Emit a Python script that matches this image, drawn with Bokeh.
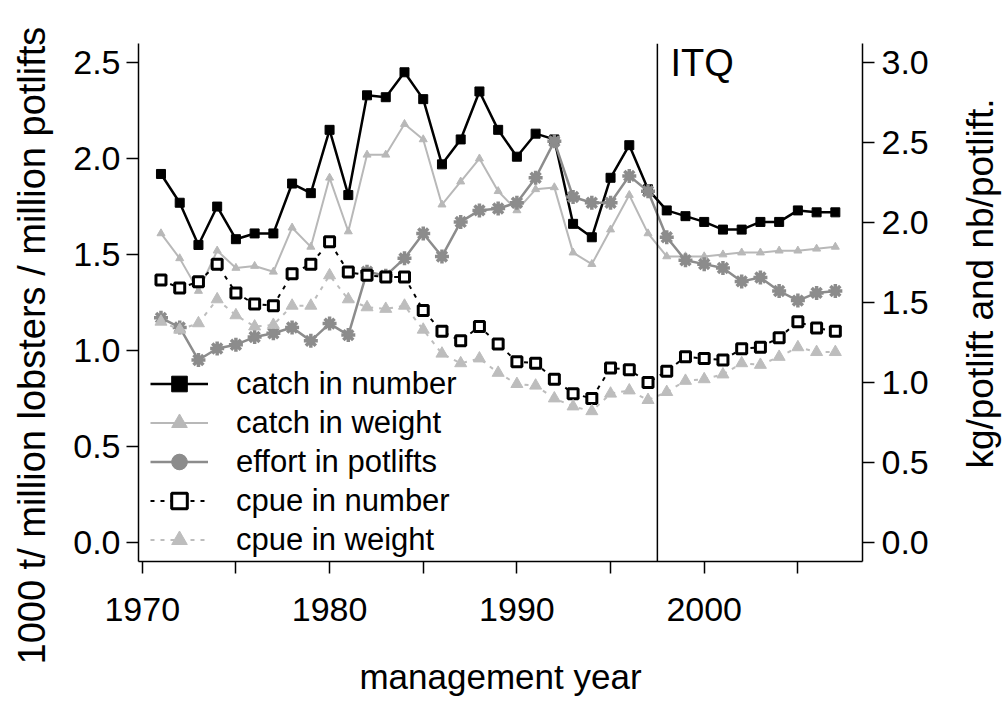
import math
from bokeh.plotting import figure
from bokeh.layouts import row
from bokeh.models import (LinearAxis, Range1d, FixedTicker, PrintfTickFormatter,
                          Legend, LegendItem, Span, Label, Title)
from bokeh.core.properties import value
from bokeh.embed import file_html
from bokeh.resources import INLINE

years = list(range(1971, 2008))

catch_number = [1.92, 1.77, 1.55, 1.75, 1.58, 1.61, 1.61, 1.87, 1.82, 2.15,
                1.81, 2.33, 2.32, 2.45, 2.31, 1.97, 2.10, 2.35, 2.15, 2.01,
                2.13, 2.10, 1.66, 1.59, 1.90, 2.07, 1.84, 1.73, 1.70, 1.67,
                1.63, 1.63, 1.67, 1.67, 1.73, 1.72, 1.72]

catch_weight = [1.61, 1.48, 1.31, 1.52, 1.43, 1.44, 1.41, 1.64, 1.54, 1.90,
                1.62, 2.02, 2.02, 2.18, 2.10, 1.76, 1.88, 2.00, 1.83, 1.73,
                1.84, 1.85, 1.51, 1.45, 1.63, 1.81, 1.61, 1.49, 1.49, 1.49,
                1.50, 1.51, 1.51, 1.52, 1.52, 1.53, 1.54]

effort = [1.17, 1.12, 0.95, 1.01, 1.03, 1.07, 1.09, 1.12, 1.05, 1.14,
          1.08, 1.41, 1.39, 1.48, 1.61, 1.49, 1.67, 1.73, 1.74, 1.77,
          1.90, 2.09, 1.80, 1.77, 1.77, 1.91, 1.83, 1.59, 1.47, 1.45,
          1.43, 1.36, 1.38, 1.31, 1.26, 1.30, 1.31]

cpue_number = [1.64, 1.59, 1.63, 1.74, 1.56, 1.49, 1.48, 1.68, 1.74, 1.88,
               1.69, 1.67, 1.66, 1.66, 1.45, 1.32, 1.26, 1.35, 1.24, 1.13,
               1.12, 1.02, 0.93, 0.90, 1.09, 1.08, 1.00, 1.07, 1.16, 1.15,
               1.14, 1.21, 1.22, 1.28, 1.38, 1.34, 1.32]

cpue_weight = [1.38, 1.33, 1.37, 1.52, 1.42, 1.35, 1.36, 1.48, 1.48, 1.67,
               1.52, 1.47, 1.46, 1.48, 1.33, 1.18, 1.12, 1.15, 1.06, 0.99,
               0.98, 0.90, 0.85, 0.82, 0.93, 0.95, 0.89, 0.94, 1.01, 1.02,
               1.05, 1.12, 1.11, 1.16, 1.22, 1.19, 1.19]

series_labels = ["catch in number", "catch in weight", "effort in potlifts",
                 "cpue in number", "cpue in weight"]
x_major = [1970, 1980, 1990, 2000]
x_minor = [1975, 1985, 1995, 2005]
left_ticks = [0.0, 0.5, 1.0, 1.5, 2.0, 2.5]
right_ticks = [0.0, 0.5, 1.0, 1.5, 2.0, 2.5, 3.0]
itq_year = 1997.5
left_title = "1000 t/ million lobsters / million potlifts"
right_title = "kg/potlift and nb/potlift."
x_title = "management year"

FONT = "Liberation Sans"
W_LEFT = 70       # strip holding the left axis title
W_RIGHT = 71      # strip holding the right axis title
FRAME_W, FRAME_H = 724, 518
TOP, BOTTOM = 43, 137

# ---------------- main chart ----------------
p = figure(frame_width=FRAME_W, frame_height=FRAME_H, output_backend="svg",
           toolbar_location=None,
           x_range=Range1d(1969.8, 2008.45), y_range=Range1d(-0.1, 2.6),
           min_border_left=137 - W_LEFT, min_border_right=66,
           min_border_top=TOP, min_border_bottom=BOTTOM)
p.extra_y_ranges = {"right": Range1d(-0.12, 3.12)}
p.outline_line_color = None
p.grid.visible = False
p.background_fill_color = "white"
p.border_fill_color = "white"


def style_axis(ax, label_size="34px"):
    ax.axis_line_color = "black"
    ax.axis_line_width = 1.5
    ax.major_tick_line_color = "black"
    ax.major_tick_line_width = 1.5
    ax.major_tick_out = 12
    ax.major_tick_in = 0
    ax.minor_tick_line_color = None
    ax.major_label_text_font = FONT
    ax.major_label_text_font_size = label_size
    ax.major_label_text_color = "black"
    ax.axis_label_text_font = FONT
    ax.axis_label_text_font_style = "normal"
    ax.axis_label_text_color = "black"


xa = p.xaxis[0]
style_axis(xa)
xa.ticker = FixedTicker(ticks=x_major, minor_ticks=x_minor)
xa.minor_tick_line_color = "black"
xa.minor_tick_line_width = 1.5
xa.minor_tick_out = 12
xa.minor_tick_in = 0
xa.major_label_standoff = 24
xa.axis_label = x_title
xa.axis_label_text_font_size = "35px"
xa.axis_label_standoff = 33

ya = p.yaxis[0]
style_axis(ya)
ya.ticker = FixedTicker(ticks=left_ticks)
ya.formatter = PrintfTickFormatter(format="%.1f")
ya.major_label_standoff = 6

ra = LinearAxis(y_range_name="right")
style_axis(ra)
ra.ticker = FixedTicker(ticks=right_ticks)
ra.formatter = PrintfTickFormatter(format="%.1f")
ra.major_label_standoff = 7
p.add_layout(ra, "right")

c_black = "black"
c_weight = "#b8b8b8"
c_effort = "#8c8c8c"
c_cpuew = "#bdbdbd"

r1l = p.line(years, catch_number, line_color=c_black, line_width=2.5)
r1m = p.scatter(years, catch_number, marker="square", size=9,
                fill_color=c_black, line_color=c_black)

r2l = p.line(years, catch_weight, line_color=c_weight, line_width=2)
r2m = p.scatter(years, catch_weight, marker="triangle", size=8,
                fill_color=c_weight, line_color=c_weight)

r3l = p.line(years, effort, line_color=c_effort, line_width=2.5)
r3m = p.scatter(years, effort, marker="asterisk", size=14,
                line_color=c_effort, line_width=3.5)
r3m2 = p.scatter(years, effort, marker="circle", size=7,
                 fill_color=c_effort, line_color=c_effort)

r4l = p.line(years, cpue_number, line_color=c_black, line_width=2,
             line_dash="4 6", y_range_name="right")
r4m = p.scatter(years, cpue_number, marker="square", size=10,
                fill_color="white", line_color=c_black, line_width=3,
                y_range_name="right")

r5l = p.line(years, cpue_weight, line_color=c_cpuew, line_width=2,
             line_dash="4 6", y_range_name="right")
r5m = p.scatter(years, cpue_weight, marker="triangle", size=12,
                fill_color=c_cpuew, line_color=c_cpuew,
                y_range_name="right")

itq = Span(location=itq_year, dimension="height", line_color="black",
           line_width=1.5)
p.add_layout(itq)
p.add_layout(Label(x=1998.2, y=2.61, text="ITQ", text_baseline="top",
                   text_font=FONT, text_font_size="38px",
                   text_color="black"))

legend = Legend(items=[
    LegendItem(label=series_labels[0], renderers=[r1l, r1m]),
    LegendItem(label=series_labels[1], renderers=[r2l, r2m]),
    LegendItem(label=series_labels[2], renderers=[r3l, r3m, r3m2]),
    LegendItem(label=series_labels[3], renderers=[r4l, r4m]),
    LegendItem(label=series_labels[4], renderers=[r5l, r5m]),
], location=(12, 2))
legend.label_text_font = FONT
legend.label_text_font_size = "31px"
legend.label_text_color = "black"
legend.glyph_width = 58
legend.glyph_height = 39
legend.label_height = 39
legend.spacing = 0
legend.padding = 0
legend.margin = 0
legend.label_standoff = 28
legend.border_line_color = None
legend.background_fill_alpha = 0
p.add_layout(legend)

# ---------------- left strip carrying the left axis title ----------------
strip_l = figure(width=W_LEFT, height=FRAME_H + TOP + BOTTOM,
                 x_range=Range1d(0, 1), y_range=Range1d(0, 1),
                 x_axis_type=None, y_axis_type=None,
                 output_backend="svg", toolbar_location=None, min_border=0)
strip_l.outline_line_color = None
strip_l.background_fill_color = "white"
strip_l.border_fill_color = "white"
strip_l.add_layout(Title(text=left_title, align="left", offset=-103,
                         vertical_align="middle", standoff=18,
                         text_font=FONT, text_font_size="38px",
                         text_font_style="normal", text_color="black"), "left")

# ---------------- right strip carrying the right axis title ----------------
# its frame shares the main frame's vertical extent; ranges are in pixels
strip_r = figure(width=W_RIGHT, height=FRAME_H + TOP + BOTTOM,
                 x_range=Range1d(0, W_RIGHT), y_range=Range1d(0, FRAME_H),
                 x_axis_type=None, y_axis_type=None,
                 output_backend="svg", toolbar_location=None, min_border=0)
strip_r.outline_line_color = None
strip_r.background_fill_color = "white"
strip_r.border_fill_color = "white"
strip_r.text(x=[49], y=[FRAME_H - 240], text=[right_title], angle=math.pi / 2,
             text_align="center", text_baseline="middle",
             text_font=value(FONT), text_font_size=value("37px"),
             text_color="black")

layout = row(strip_l, p, strip_r)

open("out.html", "w").write(file_html(layout, INLINE))
